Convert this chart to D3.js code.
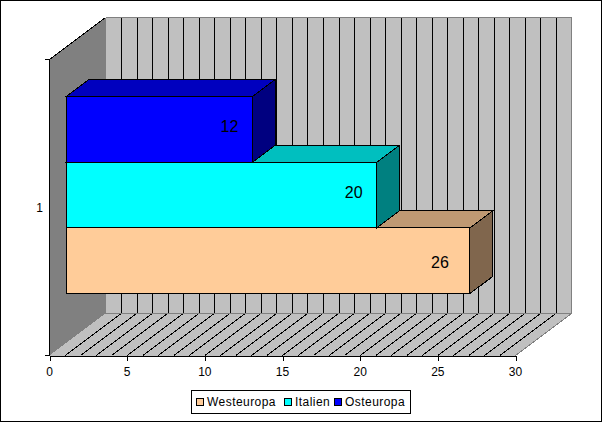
<!DOCTYPE html>
<html>
<head>
<meta charset="utf-8">
<script src="https://cdnjs.cloudflare.com/ajax/libs/d3/7.8.5/d3.min.js"></script>
<style>
  html, body { margin: 0; padding: 0; background: #fff; }
  svg { display: block; shape-rendering: crispEdges; }
  text { font-family: "Liberation Sans", Arial, sans-serif; fill: #000; }
</style>
</head>
<body>
<div id="chart"></div>
<script>
const categories = ["1"]
const seriesNames = ["Westeuropa", "Italien", "Osteuropa"]
const seriesValues = [26, 20, 12]
const seriesColors = ["#FFCC99", "#00FFFF", "#0000FF"]
const xTickLabels = [0, 5, 10, 15, 20, 25, 30]
const xGridValues = d3.range(1, 30)

const width = 602
const height = 422

// front plane of the box and the depth offset of the back wall
const plot = { left: 49.5, right: 515.5, top: 59.5, bottom: 355.5 }
const depth = { dx: 56, dy: -42 }
const barFront = 0.295
const barBack = 0.705

// hand placed value labels, the original sits them off centre
const labelShiftX = [-30, -23, -23]
const labelShiftY = [2, -3, -3]

const x = d3.scaleLinear().domain([0, 30]).range([plot.left, plot.right])
const y = d3.scaleBand().domain(categories).range([plot.bottom, plot.top])
const ySeries = d3.scaleBand().domain(seriesNames)
  .range([y(categories[0]) + y.bandwidth(), y(categories[0])])
  .paddingOuter(0.754).paddingInner(0)

// project a front plane point to depth d (0 = front, 1 = back wall)
const px = (xv, d) => x(xv) + depth.dx * d
const py = (yv, d) => yv + depth.dy * d
const poly = pts => pts.map(p => p.join(",")).join(" ")
const shade = (c, k) => { const b = d3.color(c); return d3.rgb(b.r * k, b.g * k, b.b * k) }

const svg = d3.select("#chart").append("svg")
  .attr("width", width)
  .attr("height", height)

svg.append("rect")
  .attr("x", 0.5).attr("y", 0.5)
  .attr("width", width - 1).attr("height", height - 1)
  .attr("fill", "#fff").attr("stroke", "#000")

const box = svg.append("g")

// left wall
box.append("polygon")
  .attr("points", poly([
    [px(0, 0), plot.top], [px(0, 1), py(plot.top, 1)],
    [px(0, 1), py(plot.bottom, 1)], [px(0, 0), plot.bottom]
  ]))
  .attr("fill", "#808080")

// floor
box.append("polygon")
  .attr("points", poly([
    [px(0, 0), plot.bottom], [px(0, 1), py(plot.bottom, 1)],
    [px(30, 1), py(plot.bottom, 1)], [px(30, 0), plot.bottom]
  ]))
  .attr("fill", "#C0C0C0")

// back wall
box.append("rect")
  .attr("x", px(0, 1)).attr("y", py(plot.top, 1))
  .attr("width", x(30) - x(0)).attr("height", plot.bottom - plot.top)
  .attr("fill", "#C0C0C0")

// wall and floor grid, one line per unit
box.append("g").selectAll("line")
  .data(xGridValues)
  .enter().append("line")
  .attr("x1", d => Math.round(px(d, 1)) + 0.5).attr("x2", d => Math.round(px(d, 1)) + 0.5)
  .attr("y1", py(plot.top, 1)).attr("y2", py(plot.bottom, 1))
  .attr("stroke", "#000")

box.append("g").selectAll("line")
  .data(xGridValues)
  .enter().append("line")
  .attr("x1", d => px(d, 0)).attr("x2", d => px(d, 1))
  .attr("y1", plot.bottom).attr("y2", py(plot.bottom, 1))
  .attr("stroke", "#000")

// gray outline of the box back
box.append("polyline")
  .attr("points", poly([
    [px(0, 1), py(plot.top, 1)], [px(30, 1), py(plot.top, 1)],
    [px(30, 1), py(plot.bottom, 1)], [px(0, 1), py(plot.bottom, 1)]
  ]))
  .attr("fill", "none").attr("stroke", "#808080")
box.append("line")
  .attr("x1", px(30, 0)).attr("y1", plot.bottom)
  .attr("x2", px(30, 1)).attr("y2", py(plot.bottom, 1))
  .attr("stroke", "#808080")

// top edge of the left wall
box.append("line")
  .attr("x1", px(0, 0)).attr("y1", plot.top)
  .attr("x2", px(0, 1)).attr("y2", py(plot.top, 1))
  .attr("stroke", "#000")

// bars, lowest first so the upper ones sit on top
const bars = svg.append("g").selectAll("g")
  .data(seriesNames.map((name, i) => ({ name, i, value: seriesValues[i], color: seriesColors[i] })))
  .enter().append("g")

bars.each(function (d) {
  const g = d3.select(this)
  const top = ySeries(d.name)
  const bottom = top + ySeries.bandwidth()
  const x0 = px(0, barFront), x1 = px(d.value, barFront)
  const bx0 = px(0, barBack), bx1 = px(d.value, barBack)
  const yt = py(top, barFront), yb = py(bottom, barFront)
  const byt = py(top, barBack), byb = py(bottom, barBack)

  g.append("polygon")
    .attr("points", poly([[x0, yt], [bx0, byt], [bx1, byt], [x1, yt]]))
    .attr("fill", shade(d.color, 0.75))
    .attr("stroke", "#000")
  g.append("polygon")
    .attr("points", poly([[x1, yt], [bx1, byt], [bx1, byb], [x1, yb]]))
    .attr("fill", shade(d.color, 0.5))
    .attr("stroke", "#000")
  g.append("rect")
    .attr("x", x0).attr("y", yt)
    .attr("width", x1 - x0).attr("height", yb - yt)
    .attr("fill", d.color)
    .attr("stroke", "#000")
})

// value labels
bars.append("text")
  .attr("x", d => px(d.value, barFront) + labelShiftX[d.i])
  .attr("y", d => py(ySeries(d.name) + ySeries.bandwidth() / 2, barFront) + labelShiftY[d.i])
  .attr("dy", "0.35em")
  .attr("text-anchor", "middle")
  .style("font-size", "16px")
  .text(d => d.value)

// x axis
const xAxis = svg.append("g")
  .attr("transform", `translate(0,${plot.bottom})`)
  .call(d3.axisBottom(x).tickValues(xTickLabels).tickSize(5).tickPadding(6).tickSizeOuter(0))
xAxis.selectAll("text").attr("dx", "-0.5").attr("dy", "0.75em").style("font-size", "12px")
xAxis.selectAll("line, path").attr("stroke", "#000")

// y axis, ticks mark the category borders
const yAxis = svg.append("g").attr("transform", `translate(${plot.left},0)`)
yAxis.append("line")
  .attr("y1", plot.top).attr("y2", plot.bottom)
  .attr("stroke", "#000")
yAxis.selectAll(".edge")
  .data(y.range())
  .enter().append("line")
  .attr("class", "edge")
  .attr("x1", -5).attr("x2", 0)
  .attr("y1", d => d).attr("y2", d => d)
  .attr("stroke", "#000")
yAxis.selectAll("text")
  .data(categories)
  .enter().append("text")
  .attr("x", -10)
  .attr("y", d => y(d) + y.bandwidth() / 2)
  .attr("dy", "0.35em")
  .attr("text-anchor", "middle")
  .style("font-size", "12px")
  .text(d => d)

// legend
const legend = svg.append("g")
legend.append("rect")
  .attr("x", 191.5).attr("y", 390.5)
  .attr("width", 219).attr("height", 23)
  .attr("fill", "#fff").attr("stroke", "#000")

const legendX = d3.scaleOrdinal().domain(seriesNames).range([196.5, 284.5, 334.5])
const legendItem = legend.selectAll("g")
  .data(seriesNames)
  .enter().append("g")
  .attr("transform", d => `translate(${legendX(d)},398.5)`)
legendItem.append("rect")
  .attr("width", 7).attr("height", 7)
  .attr("fill", (d, i) => seriesColors[i])
  .attr("stroke", "#000")
legendItem.append("text")
  .attr("x", 10.5).attr("y", 3.5)
  .attr("dy", "0.35em")
  .style("font-size", "12px")
  .style("letter-spacing", "0.45px")
  .text(d => d)
</script>
</body>
</html>
